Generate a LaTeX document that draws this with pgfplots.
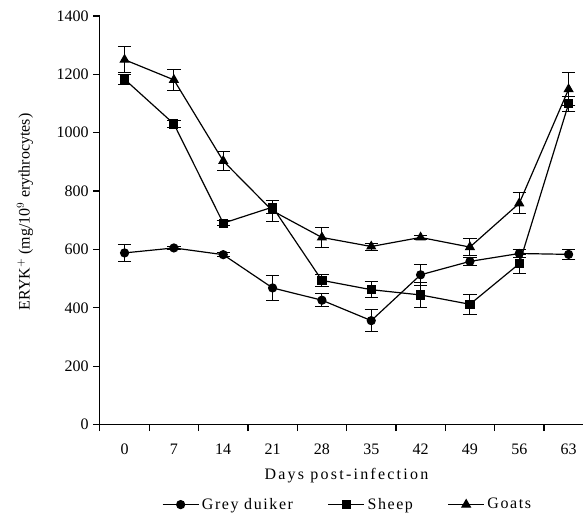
\documentclass[border=0pt]{standalone}
\usepackage{fontspec}
\setmainfont{Liberation Serif}
\usepackage{pgfplots}
\pgfplotsset{compat=1.18}
\begin{document}
\begin{tikzpicture}
\begin{axis}[
  scale only axis,
  width=363pt, height=306.75pt,
  axis lines=left,
  axis line style={-, line width=0.9pt},
  xmin=-0.5, xmax=9.3,
  ymin=0, ymax=1400,
  ytick={0,200,...,1400},
  xtick={0,...,9},
  xticklabels={0,7,14,21,28,35,42,49,56,63},
  major x tick style={draw=none},
  minor xtick={-0.5,0.5,...,8.5},
  minor x tick style={line width=0.9pt},
  minor tick length=5pt,
  major tick length=5pt,
  tick align=outside,
  tick style={black, line width=0.9pt},
  tick label style={font=\fontsize{12}{14}\selectfont},
  xticklabel style={yshift=-6pt},
  /pgf/number format/assume math mode=true,
  yticklabel style={/pgf/number format/.cd, set thousands separator={}},
  xlabel={\addfontfeatures{LetterSpace=14}Days post-infection},
  xlabel style={font=\fontsize{12}{14}\selectfont, at={(axis description cs:0.51,-0.125)}, anchor=center},
  ylabel={ERYK$^{+}$ (mg/10$^{9}$ erythrocytes)},
  ylabel style={font=\fontsize{12}{14}\selectfont, at={(axis description cs:-0.155,0.52)}, anchor=center},
  legend columns=3,
  legend style={draw=none, at={(axis description cs:0.513,-0.196)}, anchor=center,
    font=\fontsize{12}{14}\selectfont\addfontfeatures{LetterSpace=10},
    /tikz/every even column/.append style={column sep=24pt}},
  legend image code/.code={
    \draw[mark repeat=2, mark phase=2] plot coordinates {(0pt,0pt) (13.5pt,0pt) (27pt,0pt)};},
  clip=false,
]
\addplot[black, line width=0.9pt, mark=*, mark size=3pt, mark options={fill=black, solid},
  error bars/.cd, y dir=both, y explicit,
  error bar style={black, line width=0.7pt},
  error mark options={black, rotate=90, mark size=5pt, line width=0.7pt}]
  coordinates {
  (0,588) +- (0,28)
  (1,605) +- (0,5)
  (2,582) +- (0,7)
  (3,468) +- (0,44)
  (4,426) +- (0,22)
  (5,356) +- (0,38)
  (6,513) +- (0,36)
  (7,559) +- (0,15)
  (8,586) +- (0,15)
  (9,583) +- (0,18)
  };
\addlegendentry{Grey duiker}
\addplot[black, line width=0.9pt, mark=square*, mark size=3pt, mark options={fill=black, solid},
  error bars/.cd, y dir=both, y explicit,
  error bar style={black, line width=0.7pt},
  error mark options={black, rotate=90, mark size=5pt, line width=0.7pt}]
  coordinates {
  (0,1183) +- (0,18)
  (1,1030) +- (0,12)
  (2,690) +- (0,8)
  (3,745) +- (0,22)
  (4,494) +- (0,20)
  (5,462) +- (0,27)
  (6,444) +- (0,42)
  (7,412) +- (0,35)
  (8,551) +- (0,32)
  (9,1099) +- (0,25)
  };
\addlegendentry{Sheep}
\addplot[black, line width=0.9pt, mark=triangle*, mark size=3.6pt, mark options={fill=black, solid},
  error bars/.cd, y dir=both, y explicit,
  error bar style={black, line width=0.7pt},
  error mark options={black, rotate=90, mark size=5pt, line width=0.7pt}]
  coordinates {
  (0,1250) +- (0,45)
  (1,1181) +- (0,36)
  (2,903) +- (0,32)
  (3,732) +- (0,36)
  (4,641) +- (0,34)
  (5,610) +- (0,12)
  (6,641) +- (0,7)
  (7,608) +- (0,28)
  (8,758) +- (0,36)
  (9,1149) +- (0,57)
  };
\addlegendentry{Goats}
\path[use as bounding box] (axis description cs:-0.2066,-0.247) rectangle (axis description cs:1.0,1.039);
\end{axis}
\end{tikzpicture}
\end{document}
